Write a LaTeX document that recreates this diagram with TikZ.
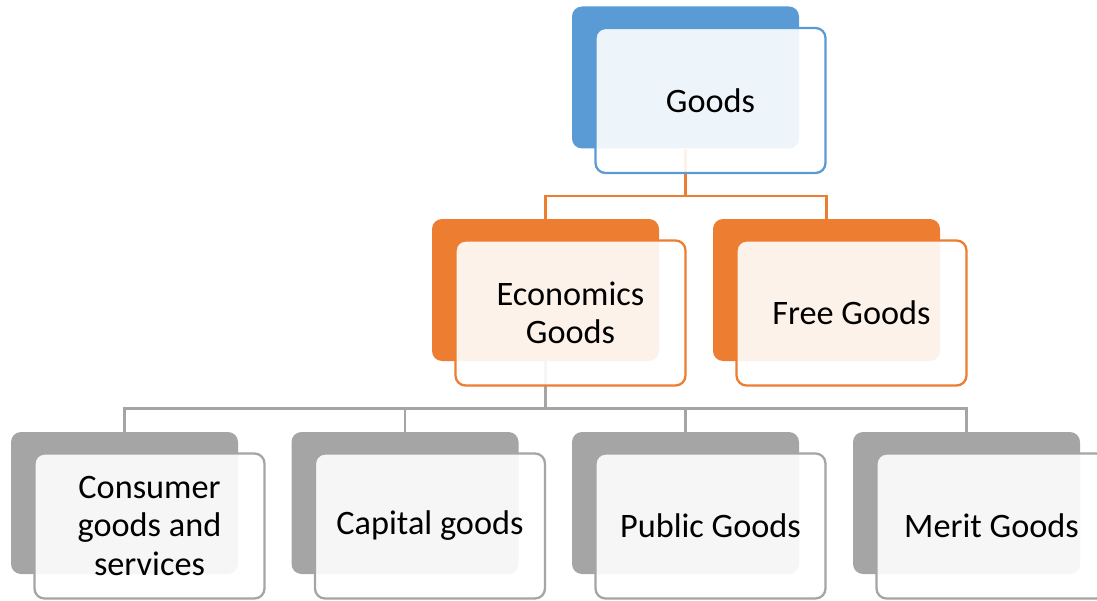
\documentclass[tikz,border=0pt]{standalone}
\usepackage{fontspec}
\setmainfont{Carlito}
\definecolor{accblue}{HTML}{5B9BD5}
\definecolor{accorange}{HTML}{ED7D31}
\definecolor{accgray}{HTML}{A5A5A5}
\begin{document}
\begin{tikzpicture}[
  backbox/.style={rectangle,rounded corners=0.2cm,minimum width=4.54cm,minimum height=2.84cm,draw=none,fill=#1},
  frontbox/.style={rectangle,rounded corners=0.2cm,minimum width=4.6cm,minimum height=2.9cm,inner sep=2pt,
    draw=#1,line width=1.3pt,fill=white,fill opacity=0.9,text opacity=1,align=center,
    font=\fontsize{19.5}{22}\selectfont},
  link/.style={line width=1.4pt,draw=#1}]
\useasboundingbox (0,0) rectangle (21.94,12);
% back boxes
\node[backbox=accblue] (goodsb) at (13.71,10.45) {};
\node[backbox=accorange] (econb) at (10.91,6.20) {};
\node[backbox=accorange] (freeb) at (16.53,6.20) {};
\node[backbox=accgray] (consb) at (2.49,1.94) {};
\node[backbox=accgray] (capb) at (8.10,1.94) {};
\node[backbox=accgray] (pubb) at (13.71,1.94) {};
\node[backbox=accgray] (meritb) at (19.33,1.94) {};
% connectors
\draw[link=accorange] (goodsb.south)--++(0,-0.94)-|(econb.north);
\draw[link=accorange] (goodsb.south)--++(0,-0.94)-|(freeb.north);
\foreach \b in {consb,capb,pubb,meritb}
  \draw[link=accgray] (econb.south)--++(0,-0.94)-|(\b.north);
% front boxes
\node[frontbox=accblue] (goods) at ([shift={(0.5,-0.46)}]goodsb) {Goods};
\node[frontbox=accorange] (econ) at ([shift={(0.5,-0.46)}]econb) {Economics\\Goods};
\node[frontbox=accorange] (free) at ([shift={(0.5,-0.46)}]freeb) {Free Goods};
\node[frontbox=accgray] (cons) at ([shift={(0.5,-0.46)}]consb) {Consumer\\goods and\\services};
\node[frontbox=accgray] (cap) at ([shift={(0.5,-0.46)}]capb) {Capital goods};
\node[frontbox=accgray] (pub) at ([shift={(0.5,-0.46)}]pubb) {Public Goods};
\node[frontbox=accgray] (merit) at ([shift={(0.5,-0.46)}]meritb) {Merit Goods};
\end{tikzpicture}
\end{document}
